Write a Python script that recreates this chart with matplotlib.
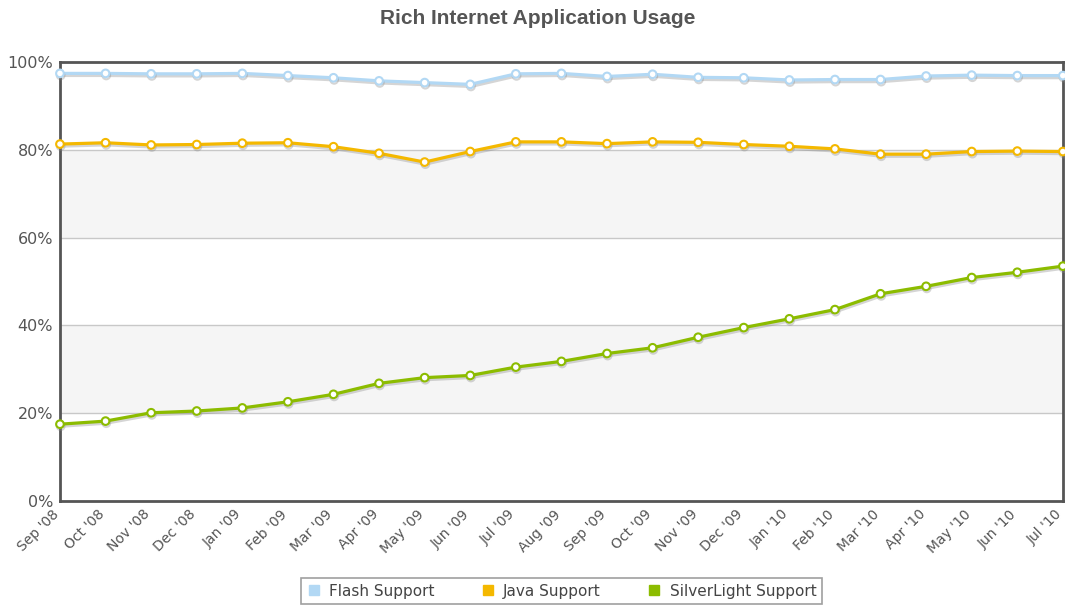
import matplotlib
matplotlib.use('Agg')
import matplotlib.pyplot as plt
import matplotlib.patheffects as pe
import matplotlib.transforms as mtransforms
import numpy as np

months = ["Sep '08", "Oct '08", "Nov '08", "Dec '08", "Jan '09", "Feb '09", "Mar '09",
          "Apr '09", "May '09", "Jun '09", "Jul '09", "Aug '09", "Sep '09", "Oct '09",
          "Nov '09", "Dec '09", "Jan '10", "Feb '10", "Mar '10", "Apr '10", "May '10",
          "Jun '10", "Jul '10"]
flash = [97.4, 97.4, 97.3, 97.3, 97.4, 96.9, 96.4, 95.7, 95.3, 94.9, 97.3, 97.4,
         96.7, 97.2, 96.5, 96.4, 95.9, 96.0, 96.0, 96.8, 97.0, 96.9, 96.9]
java = [81.3, 81.6, 81.1, 81.2, 81.5, 81.6, 80.7, 79.2, 77.2, 79.6, 81.8, 81.8,
        81.4, 81.8, 81.7, 81.2, 80.8, 80.2, 79.0, 79.0, 79.6, 79.7, 79.6]
silverlight = [17.5, 18.2, 20.1, 20.5, 21.2, 22.6, 24.3, 26.8, 28.1, 28.6, 30.5, 31.8,
               33.6, 34.9, 37.3, 39.5, 41.5, 43.6, 47.2, 48.9, 50.9, 52.1, 53.5]
series_names = ["Flash Support", "Java Support", "SilverLight Support"]
colors = ["#b2d8f4", "#f4b800", "#8cbc00"]
yticks = [0, 20, 40, 60, 80, 100]

plt.rcParams['font.family'] = ['DejaVu Sans']
fig = plt.figure(figsize=(10.65, 6.07), dpi=100)
ax = fig.add_axes([0.0563, 0.1746, 0.9417, 0.7233])

x = np.arange(len(months))
ax.set_xlim(0, len(months) - 1)
ax.set_ylim(0, 100)

# alternating bands
for lo in (20, 60):
    ax.axhspan(lo, lo + 20, color='#f5f5f5', zorder=0, lw=0)
for t in yticks[1:-1]:
    ax.axhline(t, color='#c8c8c8', lw=1, zorder=1)

shadow = [pe.SimpleLineShadow(offset=(0.5, -1.5), shadow_color='#888888', alpha=0.35), pe.Normal()]
for vals, c, name in zip([flash, java, silverlight], colors, series_names):
    ax.plot(x, vals, color=c, lw=2.3, marker='o', markersize=5.5, markerfacecolor='white',
            markeredgecolor=c, markeredgewidth=1.5, clip_on=False, zorder=3,
            path_effects=shadow, label=name)

for s in ax.spines.values():
    s.set_color('#555555')
    s.set_linewidth(2)

ax.set_yticks(yticks)
ax.set_yticklabels([f"{t}%" for t in yticks], fontsize=11.5, color='#555555')
ax.set_xticks(x)
ax.set_xticklabels(months, rotation=45, ha='right', va='center', rotation_mode='anchor',
                   fontsize=10, color='#555555')
ax.tick_params(axis='y', length=0, pad=5)
ax.tick_params(axis='x', length=0, pad=8)
shift = mtransforms.ScaledTranslation(-3 / 100, 0, fig.dpi_scale_trans)
for lbl in ax.get_xticklabels():
    lbl.set_transform(lbl.get_transform() + shift)

fig.text(0.5047, 0.97, "Rich Internet Application Usage", ha='center', va='center',
         fontsize=15, fontweight='bold', color='#555555', family='Liberation Sans')

handles = [plt.Line2D([], [], marker='s', ls='', color=c, markersize=7) for c in colors]
leg = fig.legend(handles, series_names, loc='lower center', bbox_to_anchor=(0.527, 0.0),
                 ncol=3, frameon=True, fancybox=False, fontsize=11, columnspacing=3.0,
                 handletextpad=0.5, borderpad=0.35, handlelength=1.0, borderaxespad=0.2)
leg.get_frame().set_edgecolor('#888888')
leg.get_frame().set_linewidth(1.2)
for t in leg.get_texts():
    t.set_color('#444444')

fig.savefig('out.png', dpi=100, facecolor='white')
